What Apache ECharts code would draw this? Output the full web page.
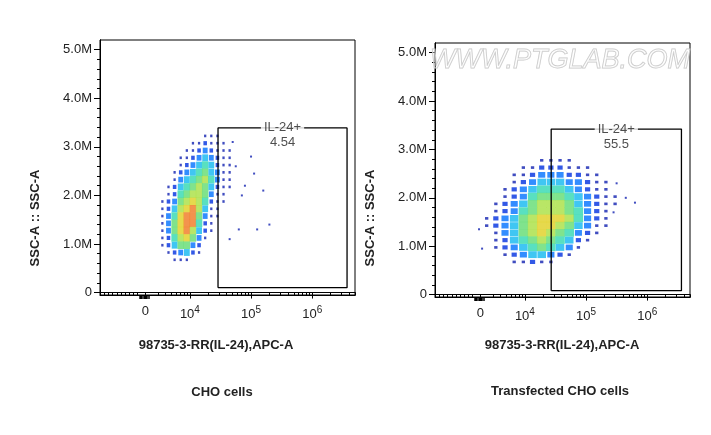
<!DOCTYPE html>
<html><head><meta charset="utf-8">
<script src="https://cdn.jsdelivr.net/npm/echarts@6/dist/echarts.min.js"></script>
<style>html,body{margin:0;padding:0;background:#fff}#c{width:711px;height:435px}</style>
</head><body><div id="c"></div>
<script>
// ---- data ----
const yTickValues = [0, 1, 2, 3, 4, 5];
const xDecades = [4, 5, 6];
const xZero = 3.27;
const rowY = [3.225,3.075,2.925,2.775,2.625,2.475,2.325,2.175,2.025,1.875,1.725,1.575,1.425,1.275,1.125,0.975,0.825,0.675];
const leftCols = {u0: 3.35, du: 0.1};
const leftDensity = [
"00000000011100","00000001121110","00000011232111","00000112343211","00000123454211",
"00001234564311","00001345675311","00012456764211","00012567763110","00123678752110",
"00124789741100","00135899631100","00136899521000","00136897421000","00125786310000",
"00124663200000","00012342100000","00001110000000"];
const leftOutliers = [[4.75,2.6],[4.9,2.2],[5.0,2.8],[5.2,2.1],[4.8,1.3],[5.1,1.3],[5.3,1.4],[4.7,3.1],[4.85,2.0],[5.05,2.45],[4.65,1.1]];
const rightCols = {u0: 3.375, du: 0.15};
const rightDensity = [
"0000000000000000","0000000000000000","0000000000000000","0000001111000000","0000112221110000",
"0001123332211000","0001234443321100","0012345554321100","0012356665432110","0123467776432110",
"0123567776532100","1234678887532100","1234678876431100","0134678765321000","0124567654210000",
"0123456543100000","0012344321000000","0001121100000000"];
const rightOutliers = [[5.5,2.3],[5.65,2.0],[5.8,1.9],[5.45,1.7],[3.25,1.35],[3.3,0.95]];
const gates = [{x1:4.46,x2:6.57,y1:0.1,y2:3.39,name:'IL-24+',pct:'4.54'},
               {x1:4.43,x2:6.56,y1:0.08,y2:3.42,name:'IL-24+',pct:'55.5'}];
const titles = ['CHO cells','Transfected CHO cells'];
// ---- build ----
const palette = ['#fff','#1020b0','#0030e0','#0070ff','#10b8f0','#30d8b0','#60dc70','#a8e040','#e0d020','#f07820'];
const sizeFactor = [0,0.35,0.55,0.75,0.9,1,1,1,1,1];
function cells(rows, cols){
  const out=[];
  rows.forEach((r,i)=>{for(let j=0;j<r.length;j++){const d=+r[j]; if(d>0) out.push([cols.u0+cols.du*j, rowY[i], d]);}});
  return out;
}
const xMin=2.53, xMax=6.70, yMin=-0.05, yMax=5.2;
const minorX=[];
for(let n=3;n<=6;n++) for(let k=2;k<=9;k++){const v=Math.log10(k*Math.pow(10,n)); if(v>3.45&&v<xMax) minorX.push(v);}
for(let v=2.6; v<3.15; v+=0.068) minorX.push(v);
const zeroCluster=[3.18,3.2,3.22,3.24,3.26,3.28,3.3,3.32];
const minorY=[]; for(let i=0;i<=25;i++){const v=i*0.2; if(i%5) minorY.push(v);}
const grids=[{left:100,top:40,width:255,height:255},{left:435,top:43,width:255,height:254}];
const xAxis=[],yAxis=[],series=[];
grids.forEach((g,gi)=>{
  const base={gridIndex:gi,type:'value',position:'bottom',min:xMin,max:xMax,splitLine:{show:false},axisLine:{lineStyle:{color:'#000'}}};
  xAxis.push(Object.assign({},base,{axisTick:{customValues:[xZero].concat(xDecades),length:6,lineStyle:{color:'#000'}},
    axisLabel:{customValues:[xZero].concat(xDecades),margin:10,color:'#222',fontFamily:'Liberation Sans',fontSize:13,
      formatter:v=>Math.abs(v-xZero)<0.01?'0':'{b|10}{s|'+Math.round(v)+'}',
      rich:{b:{fontSize:13,color:'#222',fontFamily:'Liberation Sans'},s:{fontSize:10,color:'#222',verticalAlign:'top',padding:[0,0,8,0],fontFamily:'Liberation Sans'}}}}));
  xAxis.push(Object.assign({},base,{axisTick:{customValues:minorX,length:3,lineStyle:{color:'#000'}},axisLabel:{show:false}}));
  xAxis.push(Object.assign({},base,{axisTick:{customValues:zeroCluster,length:4,lineStyle:{color:'#000',width:1.5}},axisLabel:{show:false}}));
  const yb={gridIndex:gi,type:'value',position:'left',min:yMin,max:yMax,splitLine:{show:false},axisLine:{lineStyle:{color:'#000'}}};
  yAxis.push(Object.assign({},yb,{axisTick:{customValues:yTickValues,length:6,lineStyle:{color:'#000'}},
    axisLabel:{customValues:yTickValues,margin:8,color:'#222',fontFamily:'Liberation Sans',fontSize:13,formatter:v=>v===0?'0':v.toFixed(1)+'M'}}));
  yAxis.push(Object.assign({},yb,{axisTick:{customValues:minorY,length:3,lineStyle:{color:'#000'}},axisLabel:{show:false}}));
  const dens = gi===0?cells(leftDensity,leftCols):cells(rightDensity,rightCols);
  const cw = gi===0?6.5:9.5;
  series.push({type:'scatter',xAxisIndex:gi*3,yAxisIndex:gi*2,symbol:'rect',silent:true,
    symbolSize:v=>[cw*sizeFactor[v[2]],7.6*sizeFactor[v[2]]],
    data:dens,itemStyle:{color:p=>palette[p.data[2]]}});
  series.push({type:'scatter',xAxisIndex:gi*3,yAxisIndex:gi*2,symbol:'rect',symbolSize:2,silent:true,
    data:gi===0?leftOutliers:rightOutliers,itemStyle:{color:'#1020b0'}});
  const gt=gates[gi];
  series.push({type:'line',xAxisIndex:gi*3,yAxisIndex:gi*2,symbol:'none',silent:true,z:5,
    lineStyle:{color:'#000',width:1.3},
    data:[[gt.x1,gt.y1],[gt.x1,gt.y2],[gt.x2,gt.y2],[gt.x2,gt.y1],[gt.x1,gt.y1]]});
  series.push({type:'scatter',xAxisIndex:gi*3,yAxisIndex:gi*2,symbolSize:0,silent:true,z:6,
    data:[[ (gt.x1+gt.x2)/2, gt.y2 ]],
    label:{show:true,position:'inside',formatter:'{a|'+gt.name+'}\n{b|'+gt.pct+'}',
      rich:{a:{fontSize:13,color:'#222',backgroundColor:'#fff',padding:[0,3],fontFamily:'Liberation Sans',lineHeight:14},
            b:{fontSize:13,color:'#222',fontFamily:'Liberation Sans',lineHeight:16}},offset:[0,8]}});
});
const graphic=[
 {type:'text',x:35,y:218,rotation:Math.PI/2,style:{text:'SSC-A :: SSC-A',font:'bold 13px Liberation Sans',fill:'#222',align:'center',verticalAlign:'middle'}},
 {type:'text',x:370,y:218,rotation:Math.PI/2,style:{text:'SSC-A :: SSC-A',font:'bold 13px Liberation Sans',fill:'#222',align:'center',verticalAlign:'middle'}},
 {type:'text',x:216,y:345,style:{text:'98735-3-RR(IL-24),APC-A',font:'bold 13px Liberation Sans',fill:'#222',align:'center',verticalAlign:'middle'}},
 {type:'text',x:562,y:345,style:{text:'98735-3-RR(IL-24),APC-A',font:'bold 13px Liberation Sans',fill:'#222',align:'center',verticalAlign:'middle'}},
 {type:'text',x:222,y:392,style:{text:titles[0],font:'bold 13px Liberation Sans',fill:'#222',align:'center',verticalAlign:'middle'}},
 {type:'text',x:560,y:391,style:{text:titles[1],font:'bold 13px Liberation Sans',fill:'#222',align:'center',verticalAlign:'middle'}},
 {type:'text',x:560,y:60,z:10,style:{text:'WWW.PTGLAB.COM',font:'italic 27px Liberation Sans',fill:'rgba(255,255,255,0.3)',stroke:'#c8c8c8',lineWidth:1,align:'center',verticalAlign:'middle'}}
];
const chart=echarts.init(document.getElementById('c'),null,{renderer:'canvas'});
chart.setOption({animation:false,
  grid:grids.map(g=>Object.assign({show:true,borderColor:'#000',borderWidth:1,backgroundColor:'transparent'},g)),
  xAxis,yAxis,series,graphic});
</script></body></html>
